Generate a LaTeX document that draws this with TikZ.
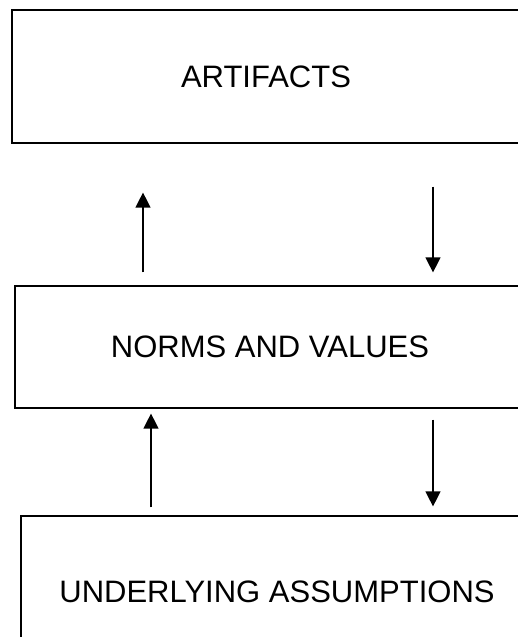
\documentclass[tikz,border=0pt]{standalone}
\usepackage{fontspec}
\setmainfont{Liberation Sans}
\usetikzlibrary{arrows.meta}

\tikzset{layer/.style={draw,line width=1.2pt,rectangle,inner sep=0pt,font=\fontsize{31}{36}\selectfont},
         flow/.style={line width=1.3pt,-{Triangle[length=15pt,width=15pt]}}}

\begin{document}
\begin{tikzpicture}[x=1pt,y=1pt]

\useasboundingbox (0,0) rectangle (518,637);
\clip (0,0) rectangle (518,637);% boxes run off the right and bottom edge

\node[layer,minimum width=508pt,minimum height=133pt] (art) at (266,560.5) {ARTIFACTS};
\node[layer,minimum width=510pt,minimum height=122pt] (norms) at (270,290) {NORMS AND VALUES};
\node[layer,minimum width=512pt,minimum height=152pt] (assum) at (277,45) {UNDERLYING ASSUMPTIONS};

% upward and downward arrows between the layers
\draw[flow] ([xshift=-127pt,yshift=13pt]norms.north) -- ([xshift=-123pt,yshift=-49pt]art.south);
\draw[flow] ([xshift=167pt,yshift=-43pt]art.south) -- ([xshift=163pt,yshift=13pt]norms.north);

\draw[flow] ([xshift=-126pt,yshift=8pt]assum.north) -- ([xshift=-119pt,yshift=-5pt]norms.south);
\draw[flow] ([xshift=163pt,yshift=-11pt]norms.south) -- ([xshift=156pt,yshift=9pt]assum.north);

\end{tikzpicture}
\end{document}
